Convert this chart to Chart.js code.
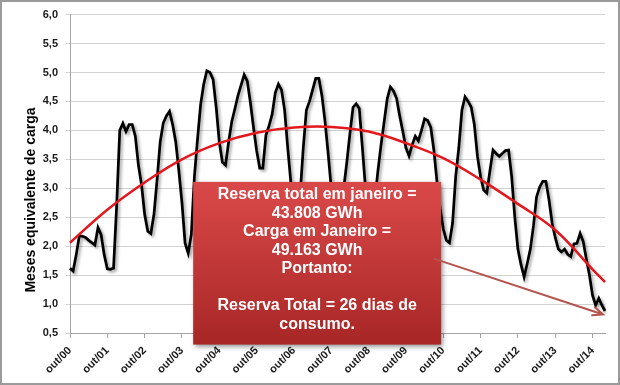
<!DOCTYPE html>
<html>
<head>
<meta charset="utf-8">
<script src="https://cdn.jsdelivr.net/npm/chart.js@4.4.1/dist/chart.umd.min.js"></script>
<style>
  html, body { margin: 0; padding: 0; background: #ffffff; }
  #wrap { position: relative; width: 620px; height: 385px; }
</style>
</head>
<body>
<div id="wrap"><canvas id="chart" width="620" height="385"></canvas></div>
<script>
// ── DATA ───────────────────────────────────────────────────────────
// monthly series, out/2000 .. fev/2015 (one row = out..set)
const MONTH_NAMES = ['jan', 'fev', 'mar', 'abr', 'mai', 'jun', 'jul', 'ago', 'set', 'out', 'nov', 'dez'];
const START_YEAR = 2000;
const START_MONTH = 9; // out

const reserveMonths = [
  1.62, 1.57, 1.85, 2.18, 2.17, 2.15, 2.10, 2.06, 2.02, 2.32, 2.20, 1.85,
  1.61, 1.60, 1.62, 2.70, 4.00, 4.12, 3.98, 4.10, 4.10, 3.90, 3.40, 3.06,
  2.55, 2.26, 2.22, 2.55, 3.15, 3.80, 4.13, 4.25, 4.33, 4.10, 3.80, 3.30,
  2.75, 2.05, 1.88, 2.20, 3.20, 3.85, 4.45, 4.80, 5.03, 5.00, 4.88, 4.40,
  3.80, 3.45, 3.40, 3.80, 4.15, 4.37, 4.60, 4.78, 4.96, 4.85, 4.48, 4.05,
  3.65, 3.35, 3.35, 3.92, 4.08, 4.28, 4.65, 4.80, 4.70, 4.35, 3.70, 3.10,
  2.60, 2.50, 2.90, 3.70, 4.35, 4.50, 4.70, 4.90, 4.90, 4.60, 4.15, 3.60,
  3.00, 2.60, 2.45, 2.60, 3.00, 3.45, 3.95, 4.40, 4.46, 4.38, 3.70, 3.00,
  2.60, 2.50, 2.80, 3.30, 3.75, 4.15, 4.55, 4.75, 4.68, 4.55, 4.25, 3.98,
  3.70, 3.56, 3.75, 3.90, 3.82, 4.00, 4.20, 4.17, 4.05, 3.65, 3.10, 2.65,
  2.30, 2.10, 2.06, 2.40, 3.20, 3.70, 4.35, 4.58, 4.50, 4.40, 4.10, 3.55,
  3.20, 2.97, 2.92, 3.30, 3.66, 3.60, 3.55, 3.60, 3.65, 3.66, 3.20, 2.50,
  1.95, 1.68, 1.47, 1.70, 1.95, 2.35, 2.85, 3.02, 3.12, 3.12, 2.80, 2.40,
  2.15, 1.95, 1.90, 1.95, 1.86, 1.82, 2.04, 2.05, 2.22, 2.08, 1.78, 1.50,
  1.15, 0.98, 1.10, 0.98, 0.88
];

// trend curve read at each out/ tick plus the last month
const trendIndex  = [0, 12, 24, 36, 48, 60, 72, 84, 96, 108, 120, 132, 144, 156, 168, 172];
const trendValues = [2.06, 2.63, 3.10, 3.50, 3.78, 3.96, 4.05, 4.06, 3.98, 3.78, 3.52, 3.15, 2.73, 2.28, 1.60, 1.38];

const Y_MIN = 0.5;
const Y_MAX = 6.0;
const Y_STEP = 0.5;

const Y_TITLE = 'Meses equivalente de carga';
const NOTE_LINES = [
  'Reserva total em janeiro =',
  '43.808 GWh',
  'Carga em Janeiro =',
  '49.163 GWh',
  'Portanto:',
  '',
  'Reserva Total = 26 dias de',
  'consumo.'
];

// ── LABELS ─────────────────────────────────────────────────────────
const monthLabels = reserveMonths.map((_, i) => {
  const m = (START_MONTH + i) % 12;
  const yr = START_YEAR + Math.floor((START_MONTH + i) / 12);
  return MONTH_NAMES[m] + '/' + String(yr % 100).padStart(2, '0');
});

const trendSeries = reserveMonths.map(() => null);
trendIndex.forEach((idx, k) => { trendSeries[idx] = trendValues[k]; });

const FONT = "'Liberation Sans', Arial, sans-serif";

// ── PLUGINS ────────────────────────────────────────────────────────
// soft drop shadow under the black series (Excel style)
const lineShadow = {
  id: 'lineShadow',
  beforeDatasetDraw(chart, args) {
    if (args.index !== 0) return;
    const c = chart.ctx;
    c.save();
    c.shadowColor = 'rgba(0,0,0,0.35)';
    c.shadowBlur = 3;
    c.shadowOffsetX = 2;
    c.shadowOffsetY = 2;
  },
  afterDatasetDraw(chart, args) {
    if (args.index === 0) chart.ctx.restore();
  }
};

// red call-out box + arrow, anchored in axis units
const NOTE_BOX = { from: 39.6, to: 119.3, top: 3.11, bottom: 0.30 };
const NOTE_ARROW = { x1: 117.2, y1: 1.78, x2: 171.4, y2: 0.82 };

const noteBox = {
  id: 'noteBox',
  afterDatasetsDraw(chart) {
    const { ctx, scales: { x, y } } = chart;
    const l = x.getPixelForValue(NOTE_BOX.from);
    const r = x.getPixelForValue(NOTE_BOX.to);
    const t = y.getPixelForValue(NOTE_BOX.top);
    const b = y.getPixelForValue(NOTE_BOX.bottom);

    ctx.save();
    const grad = ctx.createLinearGradient(0, t, 0, b);
    grad.addColorStop(0, '#da4949');
    grad.addColorStop(1, '#a82626');
    ctx.shadowColor = 'rgba(0,0,0,0.45)';
    ctx.shadowBlur = 5;
    ctx.shadowOffsetX = 2;
    ctx.shadowOffsetY = 2;
    ctx.fillStyle = grad;
    ctx.fillRect(l, t, r - l, b - t);
    ctx.restore();

    ctx.save();
    ctx.fillStyle = '#ffffff';
    ctx.font = 'bold 16px ' + FONT;
    ctx.textAlign = 'center';
    ctx.textBaseline = 'middle';
    const cx = (l + r) / 2;
    NOTE_LINES.forEach((line, k) => {
      ctx.fillText(line, cx, t + 13 + k * 18.5);
    });
    ctx.restore();

    // arrow
    const ax1 = x.getPixelForValue(NOTE_ARROW.x1), ay1 = y.getPixelForValue(NOTE_ARROW.y1);
    const ax2 = x.getPixelForValue(NOTE_ARROW.x2), ay2 = y.getPixelForValue(NOTE_ARROW.y2);
    const ang = Math.atan2(ay2 - ay1, ax2 - ax1);
    ctx.save();
    ctx.strokeStyle = '#b5534e';
    ctx.lineWidth = 2;
    ctx.lineCap = 'round';
    ctx.beginPath();
    ctx.moveTo(ax1, ay1);
    ctx.lineTo(ax2, ay2);
    ctx.moveTo(ax2 - 11 * Math.cos(ang - 0.4), ay2 - 11 * Math.sin(ang - 0.4));
    ctx.lineTo(ax2, ay2);
    ctx.lineTo(ax2 - 11 * Math.cos(ang + 0.4), ay2 - 11 * Math.sin(ang + 0.4));
    ctx.stroke();
    ctx.restore();
  }
};

// rotated y-axis title and outer frame
const frameAndTitle = {
  id: 'frameAndTitle',
  afterDraw(chart) {
    const c = chart.ctx;
    c.save();
    c.translate(31, 200);
    c.rotate(-Math.PI / 2);
    c.fillStyle = '#000000';
    c.font = 'bold 14px ' + FONT;
    c.textAlign = 'center';
    c.textBaseline = 'middle';
    c.fillText(Y_TITLE, 0, 0);
    c.restore();

    c.save();
    c.strokeStyle = '#9a9a9a';
    c.lineWidth = 2;
    c.strokeRect(1, 1, chart.width - 2, chart.height - 2);
    c.restore();
  }
};

// ── CHART ──────────────────────────────────────────────────────────
new Chart(document.getElementById('chart').getContext('2d'), {
  type: 'line',
  data: {
    labels: monthLabels,
    datasets: [
      {
        label: 'Reserva',
        data: reserveMonths,
        borderColor: '#000000',
        borderWidth: 2.75,
        pointRadius: 0,
        tension: 0,
        order: 1
      },
      {
        label: 'Tendência',
        data: trendSeries,
        borderColor: '#e3171c',
        borderWidth: 2.5,
        pointRadius: 0,
        spanGaps: true,
        tension: 0.4,
        order: 0
      }
    ]
  },
  options: {
    responsive: false,
    animation: false,
    layout: { padding: { left: 0, right: 15, top: 11, bottom: 0 } },
    plugins: {
      legend: { display: false },
      tooltip: { enabled: false }
    },
    scales: {
      x: {
        type: 'category',
        offset: false,
        grid: { drawOnChartArea: false, drawTicks: true, tickLength: 5, color: '#a6a6a6' },
        border: { display: true, color: '#a6a6a6', width: 1 },
        ticks: {
          autoSkip: false,
          maxRotation: 45,
          minRotation: 45,
          padding: 6,
          color: '#1a1a1a',
          font: { family: FONT, size: 11, weight: 'bold' }
        },
        afterBuildTicks: (s) => { s.ticks = s.ticks.filter(t => t.value % 12 === 0); },
        afterFit: (s) => { s.height = 52; }
      },
      y: {
        min: Y_MIN,
        max: Y_MAX,
        grid: { color: '#d2d2d2', tickLength: 4, drawTicks: true },
        border: { display: true, color: '#a6a6a6', width: 1 },
        ticks: {
          stepSize: Y_STEP,
          padding: 8,
          color: '#1a1a1a',
          font: { family: FONT, size: 11, weight: 'bold' },
          callback: (v) => v.toFixed(1).replace('.', ',')
        },
        afterFit: (s) => { s.width = 70; }
      }
    }
  },
  plugins: [lineShadow, noteBox, frameAndTitle]
});
</script>
</body>
</html>
